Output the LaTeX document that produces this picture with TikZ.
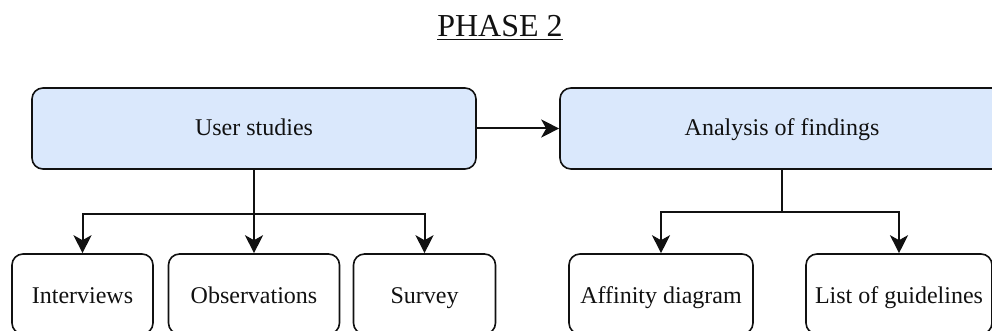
\documentclass[tikz,border=0pt]{standalone}
\usepackage{fontspec}
\setmainfont{Liberation Serif}
\usetikzlibrary{arrows.meta}
\definecolor{boxblue}{HTML}{DAE8FC}
\definecolor{ink}{HTML}{111111}
\tikzset{
  topbox/.style={draw=ink, line width=1.6pt, fill=boxblue, rounded corners=11pt,
    minimum width=444pt, minimum height=81pt, inner sep=0pt,
    text height=15pt, text depth=0pt,
    font=\fontsize{24}{28}\selectfont, text=ink},
  subbox/.style={draw=ink, line width=1.6pt, fill=white, rounded corners=11pt,
    minimum height=80pt, inner sep=0pt,
    text height=18pt, text depth=0pt,
    font=\fontsize{24}{28}\selectfont, text=ink},
  conn/.style={draw=ink, line width=2pt},
  arr/.style={conn, -{Stealth[length=18pt,width=18pt,inset=5pt]}}
}
\begin{document}
\begin{tikzpicture}[x=1pt,y=-1pt]
\useasboundingbox (0,0) rectangle (992,331);
\node[anchor=base, font=\fontsize{32}{36}\selectfont, text=ink] (title) at (500,37) {\underline{PHASE 2}};
\node[topbox] (us) at (254,128.5) {User studies};
\node[topbox] (af) at (782,128.5) {Analysis of findings};
\node[subbox, minimum width=141pt] (int) at (82.5,294) {Interviews};
\node[subbox, minimum width=171pt] (obs) at (254,294) {Observations};
\node[subbox, minimum width=142pt] (sur) at (424.5,294) {Survey};
\node[subbox, minimum width=184pt] (aff) at (661,294) {Affinity diagram};
\node[subbox, minimum width=186pt] (lis) at (899,294) {List of guidelines};
\coordinate (j1) at (254,214);
\coordinate (j2) at (782,212);
\draw[arr] (us.east) -- (af.west);
\draw[conn] (us.south) -- (j1);
\draw[arr] (j1) -| (int.north);
\draw[arr] (j1) -- (obs.north);
\draw[arr] (j1) -| (sur.north);
\draw[conn] (af.south) -- (j2);
\draw[arr] (j2) -| (aff.north);
\draw[arr] (j2) -| (lis.north);
\end{tikzpicture}
\end{document}
